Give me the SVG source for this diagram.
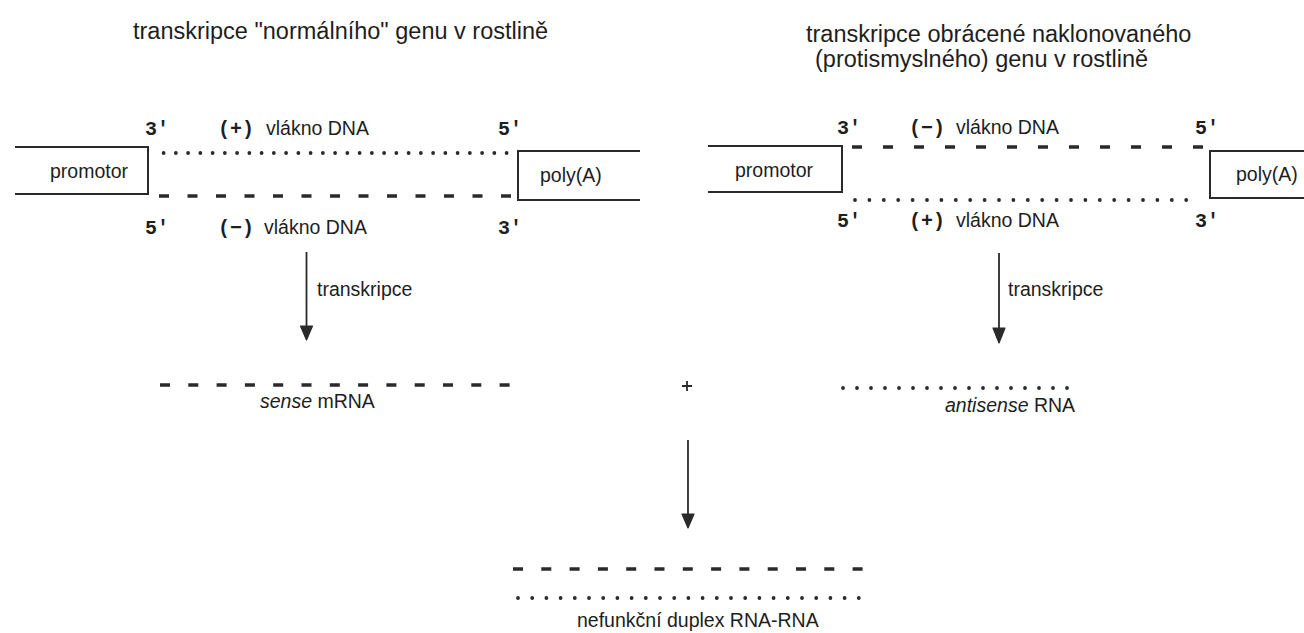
<svg xmlns="http://www.w3.org/2000/svg" width="1304" height="633" viewBox="0 0 1304 633">
  <style>
    .t { font-family: "Liberation Sans", Arial, sans-serif; font-size: 19.5px; fill: #1e1e1e; }
    .title { font-family: "Liberation Sans", Arial, sans-serif; font-size: 23.5px; fill: #1e1e1e; }
    .m { font-family: "Liberation Mono", "Courier New", monospace; font-size: 20px; font-weight: bold; fill: #1e1e1e; }
    .box { fill: none; stroke: #2a2a2a; stroke-width: 2; }
    .dash { fill: none; stroke: #2a2a2a; stroke-width: 3.4; }
    .dot { fill: none; stroke: #2a2a2a; stroke-width: 3.8; stroke-linecap: round; }
    .arrow { fill: none; stroke: #2a2a2a; stroke-width: 1.8; }
    .head { fill: #2a2a2a; stroke: #2a2a2a; stroke-width: 1.2; stroke-linejoin: round; }
  </style>
  <rect width="1304" height="633" fill="#ffffff"/>

  <!-- headings -->
  <text class="title" x="133" y="39">transkripce "normálního" genu v rostlině</text>
  <text class="title" x="806" y="42">transkripce obrácené naklonovaného</text>
  <text class="title" x="815" y="67">(protismyslného) genu v rostlině</text>

  <!-- sense gene -->
  <g id="sense-gene">
    <g id="promotor-left">
      <path class="box" d="M15 147 H148 V194 H15"/>
      <text class="t" x="50" y="178">promotor</text>
    </g>
    <g id="polyA-left">
      <path class="box" d="M640 151 H518 V200 H640"/>
      <text class="t" x="540" y="182">poly(A)</text>
    </g>
    <g id="plus-strand-left">
      <path class="dot" d="M163.6 153 H507" stroke-dasharray="0 12.25"/>
      <text class="m" x="145" y="135">3'</text>
      <text class="m" x="218" y="135">(+)</text>
      <text class="t" x="266" y="135">vlákno DNA</text>
      <text class="m" x="498" y="135">5'</text>
    </g>
    <g id="minus-strand-left">
      <path class="dash" d="M159 196 H511" stroke-dasharray="10 18.5"/>
      <text class="m" x="145" y="234">5'</text>
      <text class="m" x="218" y="234">(−)</text>
      <text class="t" x="264" y="234">vlákno DNA</text>
      <text class="m" x="498" y="234">3'</text>
    </g>
  </g>

  <!-- antisense gene -->
  <g id="antisense-gene">
    <g id="promotor-right">
      <path class="box" d="M708 146 H842 V192 H708"/>
      <text class="t" x="735" y="177">promotor</text>
    </g>
    <g id="polyA-right">
      <path class="box" d="M1304 151 H1210 V198 H1304"/>
      <text class="t" x="1236" y="181">poly(A)</text>
    </g>
    <g id="minus-strand-right">
      <path class="dash" d="M852 147 H1203" stroke-dasharray="10 21"/>
      <text class="m" x="837" y="134">3'</text>
      <text class="m" x="909" y="134">(−)</text>
      <text class="t" x="956" y="134">vlákno DNA</text>
      <text class="m" x="1195" y="134">5'</text>
    </g>
    <g id="plus-strand-right">
      <path class="dot" d="M855 200 H1200" stroke-dasharray="0 14.4"/>
      <text class="m" x="837" y="227">5'</text>
      <text class="m" x="909" y="227">(+)</text>
      <text class="t" x="956" y="227">vlákno DNA</text>
      <text class="m" x="1195" y="227">3'</text>
    </g>
  </g>

  <!-- transcripts -->
  <g id="sense-mrna">
    <path class="dash" d="M160 385 H511" stroke-dasharray="10 18.3"/>
    <text class="t" x="260" y="408"><tspan font-style="italic">sense</tspan> mRNA</text>
  </g>
  <g id="plus-sign">
    <path d="M682 386 H692 M687 381 V391" stroke="#2a2a2a" stroke-width="1.8" fill="none"/>
  </g>
  <g id="antisense-rna">
    <path class="dot" d="M843 388 H1081" stroke-dasharray="0 14"/>
    <text class="t" x="945" y="412"><tspan font-style="italic">antisense</tspan> RNA</text>
  </g>

  <!-- hybrid -->
  <g id="duplex">
    <path class="dash" d="M513 569 H863" stroke-dasharray="10 18.3"/>
    <path class="dot" d="M518 598 H859" stroke-dasharray="0 14.2"/>
    <text class="t" x="577" y="627">nefunkční duplex RNA-RNA</text>
  </g>

  <!-- arrows -->
  <g id="connectors">
    <g id="arrow-left">
      <path class="arrow" d="M306.5 252 V328"/>
      <path class="head" d="M300.5 326 L312.5 326 L306.5 340 Z"/>
      <text class="t" x="317" y="296">transkripce</text>
    </g>
    <g id="arrow-right">
      <path class="arrow" d="M999 253 V330"/>
      <path class="head" d="M993 328 L1005 328 L999 343 Z"/>
      <text class="t" x="1008" y="296">transkripce</text>
    </g>
    <g id="arrow-duplex">
      <path class="arrow" d="M688 440 V516"/>
      <path class="head" d="M682 514 L694 514 L688 528 Z"/>
    </g>
  </g>
</svg>
